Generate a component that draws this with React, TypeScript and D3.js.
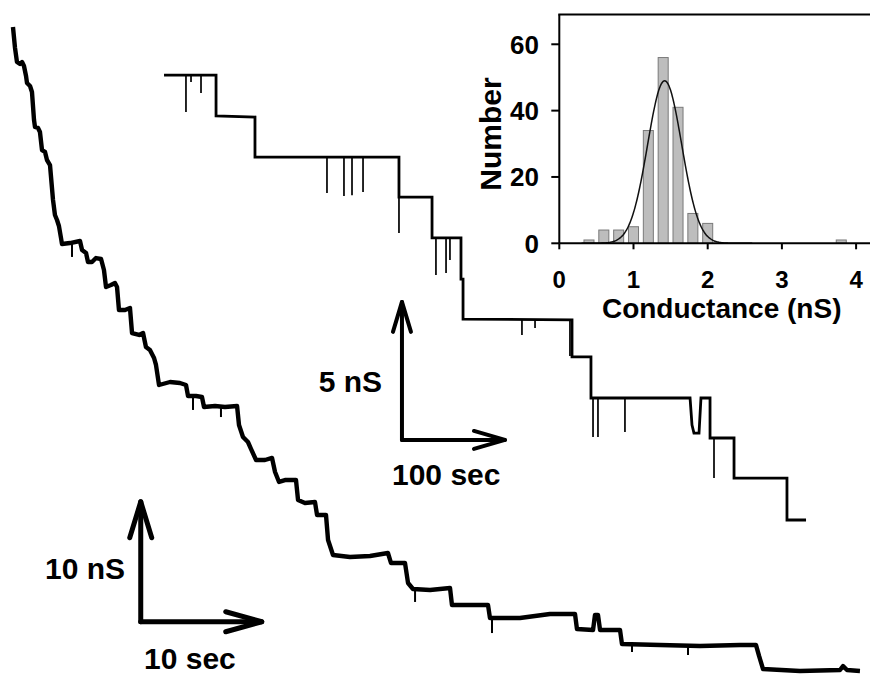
import React from "react";
import * as d3 from "d3";

// ---- Lower trace (10 nS / 10 sec scale) : time (s), conductance (nS)
const lowerT = [0.08,0.25,0.41,0.66,0.83,0.99,1.16,1.24,1.49,1.65,1.82,1.90,2.15,2.31,2.48,2.73,2.89,3.14,3.39,3.55,3.72,3.88,4.05,4.13,4.79,5.62,5.79,6.12,6.28,6.61,6.94,7.36,7.60,7.77,8.18,8.51,8.68,8.84,9.34,9.75,9.92,10.50,10.83,11.07,11.40,11.74,11.90,12.15,13.06,13.88,14.38,14.55,15.21,15.70,15.87,16.78,17.60,18.60,18.76,19.09,19.50,19.75,20.17,20.91,21.49,21.74,22.07,22.56,23.47,23.64,24.21,25.04,25.21,25.95,26.12,26.53,27.93,29.59,31.07,31.32,32.48,32.73,33.14,34.55,36.20,36.36,39.34,39.50,41.98,44.46,46.53,46.69,48.02,48.18,48.43,48.60,50.25,50.41,53.55,56.86,60.17,61.49,61.74,62.07,65.12,68.43,68.68,69.01,70.08];
const lowerG = [56.08,54.33,53.17,53.0,53.17,52.83,52.0,51.42,51.17,50.67,48.33,47.75,47.67,47.33,45.83,45.67,45.0,44.58,41.67,40.42,40.0,39.5,38.5,38.0,38.08,38.25,37.5,37.25,36.5,36.5,36.83,36.75,35.83,34.42,34.58,34.75,34.42,32.5,32.5,32.67,30.58,30.42,30.58,29.42,29.17,28.5,27.92,26.25,26.5,26.42,26.25,25.33,25.33,25.25,24.42,24.5,24.42,24.5,22.92,21.92,21.5,20.92,20.0,20.0,20.17,19.0,18.17,18.33,18.33,16.67,16.42,16.5,15.42,15.42,13.33,12.08,11.92,12.0,12.25,11.42,11.42,9.75,9.25,9.17,9.33,7.92,7.92,6.83,6.83,7.17,7.17,5.92,5.83,7.08,7.08,5.83,5.83,4.67,4.58,4.5,4.58,4.58,3.67,2.58,2.42,2.5,2.83,2.5,2.42];
const lowerSpikeT = [4.96, 14.96, 17.27, 33.31, 39.67, 51.24, 55.87];
const lowerSpikeFrom = [38.0, 25.33, 24.42, 9.25, 6.83, 4.58, 4.5];
const lowerSpikeTo = [36.92, 24.17, 23.58, 8.17, 5.58, 4.0, 3.75];

// ---- Upper trace (5 nS / 100 sec scale)
const upperT = [1.0,51.5,51.5,89.3,89.3,229.1,229.1,261.2,261.2,289.3,289.3,291.3,291.3,397.1,397.1,415.5,415.5,511.7,513.6,515.5,520.4,522.3,531.1,531.1,554.4,554.4,605.8,605.8,624.3];
const upperG = [17.57,17.57,16.09,16.05,14.6,14.6,13.15,13.15,11.67,11.67,10.18,10.18,8.73,8.70,7.36,7.36,5.87,5.87,4.89,4.60,4.60,5.87,5.87,4.42,4.42,2.97,2.97,1.45,1.45];
const upperSpikeT = [22.3,27.2,36.9,159.2,175.7,183.5,194.2,229.1,265.0,274.8,278.6,348.5,361.2,395.1,417.5,422.3,448.5,534.95];
const upperSpikeFrom = [17.57,17.57,17.57,14.6,14.6,14.6,14.6,13.15,11.67,11.67,11.67,8.70,8.70,8.70,5.87,5.87,5.87,4.42];
const upperSpikeTo = [16.23,17.32,16.92,13.30,13.19,13.22,13.33,11.85,10.33,10.40,10.87,8.15,8.41,7.39,4.46,4.46,4.64,2.97];

// ---- Inset histogram
const binCenters = [0.4, 0.6, 0.8, 1.0, 1.2, 1.4, 1.6, 1.8, 2.0, 3.8];
const binCounts = [1, 4, 4, 5, 34, 56, 41, 9, 6, 1];
const histXTicks = [0, 1, 2, 3, 4];
const histYTicks = [0, 20, 40, 60];
const fitMean = 1.42;
const fitSigma = 0.23;
const fitAmp = 49;

const FONT = "'Liberation Sans', Arial, Helvetica, sans-serif";

function Arrow({ x1, y1, x2, y2, len, half, sw }: any) {
  const ang = Math.atan2(y2 - y1, x2 - x1);
  const bx = x2 - len * Math.cos(ang);
  const by = y2 - len * Math.sin(ang);
  const px = -Math.sin(ang) * half;
  const py = Math.cos(ang) * half;
  return (
    <g stroke="#000" strokeWidth={sw} fill="none" strokeLinecap="round" strokeLinejoin="round">
      <line x1={x1} y1={y1} x2={x2} y2={y2} />
      <polyline points={`${bx + px},${by + py} ${x2},${y2} ${bx - px},${by - py}`} />
    </g>
  );
}

export default function App() {
  // lower trace scales
  const lx = d3.scaleLinear().domain([0, 70]).range([12, 12 + 70 * 12.1]);
  const ly = d3.scaleLinear().domain([0, 60]).range([700, 700 - 60 * 12]);
  // upper trace scales
  const ux = d3.scaleLinear().domain([0, 600]).range([163, 163 + 600 * 1.03]);
  const uy = d3.scaleLinear().domain([0, 20]).range([560, 560 - 20 * 27.6]);
  // histogram scales
  const hx = d3.scaleLinear().domain([0, 4.2]).range([559.3, 559.3 + 4.2 * 74.2]);
  const hy = d3.scaleLinear().domain([0, 69]).range([243.3, 243.3 - 69 * 3.317]);

  const lowerPath = d3.line<number>().x((_, i) => lx(lowerT[i])).y((d) => ly(d))(lowerG) || "";
  const upperPath = d3.line<number>().x((_, i) => ux(upperT[i])).y((d) => uy(d))(upperG) || "";

  const fitXs = d3.range(0.3, 2.6, 0.01);
  const fitPath =
    d3
      .line<number>()
      .x((d) => hx(d))
      .y((d) => hy(fitAmp * Math.exp(-0.5 * ((d - fitMean) / fitSigma) ** 2)))
      .curve(d3.curveBasis)(fitXs) || "";

  const barW = hx(0.135) - hx(0);

  // scale-bar anchors in data coordinates
  const uOx = ux(232), uOy = uy(4.35);
  const lOx = lx(10.64), lOy = ly(6.52);

  const axisTop = hy(69);
  const axisRight = 870;

  return (
    <svg
      width={870}
      height={676}
      style={{ position: "absolute", left: 0, top: 0, background: "#fff" }}
      fontFamily={FONT}
      fontWeight="bold"
    >
      <rect x={0} y={0} width={870} height={676} fill="#fff" />

      {/* Histogram inset */}
      <g>
        {binCenters.map((c, i) => (
          <rect
            key={i}
            x={hx(c) - barW / 2}
            y={hy(binCounts[i])}
            width={barW}
            height={hy(0) - hy(binCounts[i])}
            fill="#bdbdbd"
            stroke="#7a7a7a"
            strokeWidth={1}
          />
        ))}
        <path d={fitPath} fill="none" stroke="#111" strokeWidth={1.5} />
        <line x1={hx(0)} y1={hy(0)} x2={axisRight} y2={hy(0)} stroke="#000" strokeWidth={2} />
        <line x1={hx(0)} y1={hy(0)} x2={hx(0)} y2={axisTop} stroke="#000" strokeWidth={2} />
        <line x1={hx(0) - 1} y1={axisTop} x2={axisRight} y2={axisTop} stroke="#000" strokeWidth={2} />
        {histXTicks.map((t) => (
          <g key={t}>
            <line x1={hx(t)} y1={hy(0)} x2={hx(t)} y2={hy(0) + 6} stroke="#000" strokeWidth={2} />
            <text x={hx(t)} y={288} textAnchor="middle" fontSize={24}>
              {t}
            </text>
          </g>
        ))}
        {histYTicks.map((t) => (
          <g key={t}>
            <line x1={hx(0) - 8} y1={hy(t)} x2={hx(0)} y2={hy(t)} stroke="#000" strokeWidth={2} />
            <text x={539} y={hy(t)} dy="0.36em" textAnchor="end" fontSize={26}>
              {t}
            </text>
          </g>
        ))}
        <text x={721.7} y={318} textAnchor="middle" fontSize={28}>
          Conductance (nS)
        </text>
        <text transform={`translate(501,134) rotate(-90)`} textAnchor="middle" fontSize={30}>
          Number
        </text>
      </g>

      {/* Upper trace */}
      <path d={upperPath} fill="none" stroke="#000" strokeWidth={2.8} strokeLinejoin="miter" />
      {upperSpikeT.map((t, i) => (
        <line
          key={i}
          x1={ux(t)}
          x2={ux(t)}
          y1={uy(upperSpikeFrom[i])}
          y2={uy(upperSpikeTo[i])}
          stroke="#000"
          strokeWidth={1.7}
        />
      ))}

      {/* Lower trace */}
      <path d={lowerPath} fill="none" stroke="#000" strokeWidth={4.4} strokeLinejoin="round" />
      {lowerSpikeT.map((t, i) => (
        <line
          key={i}
          x1={lx(t)}
          x2={lx(t)}
          y1={ly(lowerSpikeFrom[i])}
          y2={ly(lowerSpikeTo[i])}
          stroke="#000"
          strokeWidth={2}
        />
      ))}

      {/* Upper scale bar: 5 nS, 100 sec */}
      <Arrow x1={uOx} y1={uOy} x2={uOx} y2={uy(4.35 + 5)} len={30} half={9} sw={4} />
      <Arrow x1={uOx} y1={uOy} x2={ux(232 + 100)} y2={uOy} len={31} half={9} sw={4} />
      <text x={382} y={392} textAnchor="end" fontSize={30}>5 nS</text>
      <text x={392} y={485} textAnchor="start" fontSize={30}>100 sec</text>

      {/* Lower scale bar: 10 nS, 10 sec */}
      <Arrow x1={lOx} y1={lOy} x2={lOx} y2={ly(6.52 + 10)} len={36} half={11} sw={5} />
      <Arrow x1={lOx} y1={lOy} x2={lx(10.64 + 10)} y2={lOy} len={36} half={10} sw={5} />
      <text x={125} y={579} textAnchor="end" fontSize={30}>10 nS</text>
      <text x={144} y={669} textAnchor="start" fontSize={30}>10 sec</text>
    </svg>
  );
}
